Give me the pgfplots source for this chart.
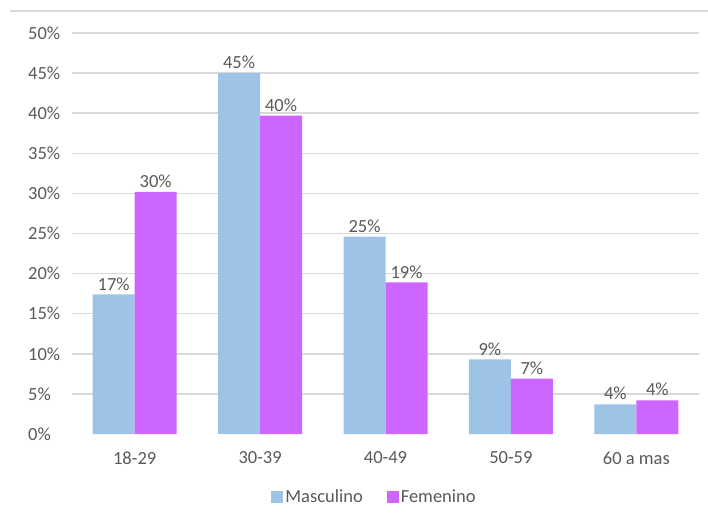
\documentclass[border=0pt]{standalone}
\usepackage{pgfplots}
\pgfplotsset{compat=1.18}
\usepackage{fontspec}
\setmainfont{Carlito}
\definecolor{masc}{HTML}{9DC3E6}
\definecolor{fem}{HTML}{CC66FF}
\definecolor{txt}{HTML}{595959}
\definecolor{gridc}{HTML}{D9D9D9}

\begin{document}
\begin{tikzpicture}[font=\fontsize{18.5bp}{22bp}\selectfont, text=txt]
\useasboundingbox (-72bp,-88bp) rectangle (636bp,434bp);
% frame line across the top
\draw[gridc, line width=1.5bp] (-62bp,423bp) -- (636bp,423bp);
\begin{axis}[
  at={(0,0)}, anchor=south west,
  scale only axis, width=627bp, height=401bp,
  ybar=0pt, bar width=42bp,
  xmin=-0.5, xmax=4.5, ymin=0, ymax=50,
  xtick=data, xticklabels={18-29,30-39,40-49,50-59,60 a mas},
  ytick={5,10,...,50},
  extra y ticks={0}, extra y tick style={grid=none},
  yticklabel={\pgfmathprintnumber{\tick}\%},
  /pgf/number format/assume math mode=true,
  axis line style={draw=none}, major tick length=0pt,
  ymajorgrids, grid style={gridc, line width=1.5bp},
  yticklabel style={anchor=west, xshift=-44bp, inner sep=0pt},
  xticklabel style={anchor=center, yshift=-24bp, inner sep=0pt},
  nodes near coords={\pgfmathprintnumber[fixed,precision=0]{\pgfplotspointmeta}\%},
  nodes near coords style={anchor=south, inner sep=0pt, yshift=4bp,
    /pgf/number format/assume math mode=true},
  legend columns=2,
  legend style={draw=none, fill=none, at={(axis description cs:0.5,0)},
    anchor=center, yshift=-63bp, xshift=-11bp,
    /tikz/every even column/.append style={column sep=22bp}},
  legend image code/.code={\fill[#1] (0bp,-6bp) rectangle (12bp,6bp);},
]
\addplot[fill=masc, draw=none] coordinates {(0,17.4) (1,45.0) (2,24.6) (3,9.3) (4,3.7)};
\addplot[fill=fem, draw=none] coordinates {(0,30.2) (1,39.7) (2,18.9) (3,6.9) (4,4.2)};
\legend{Masculino, Femenino}
\end{axis}
\end{tikzpicture}
\end{document}
